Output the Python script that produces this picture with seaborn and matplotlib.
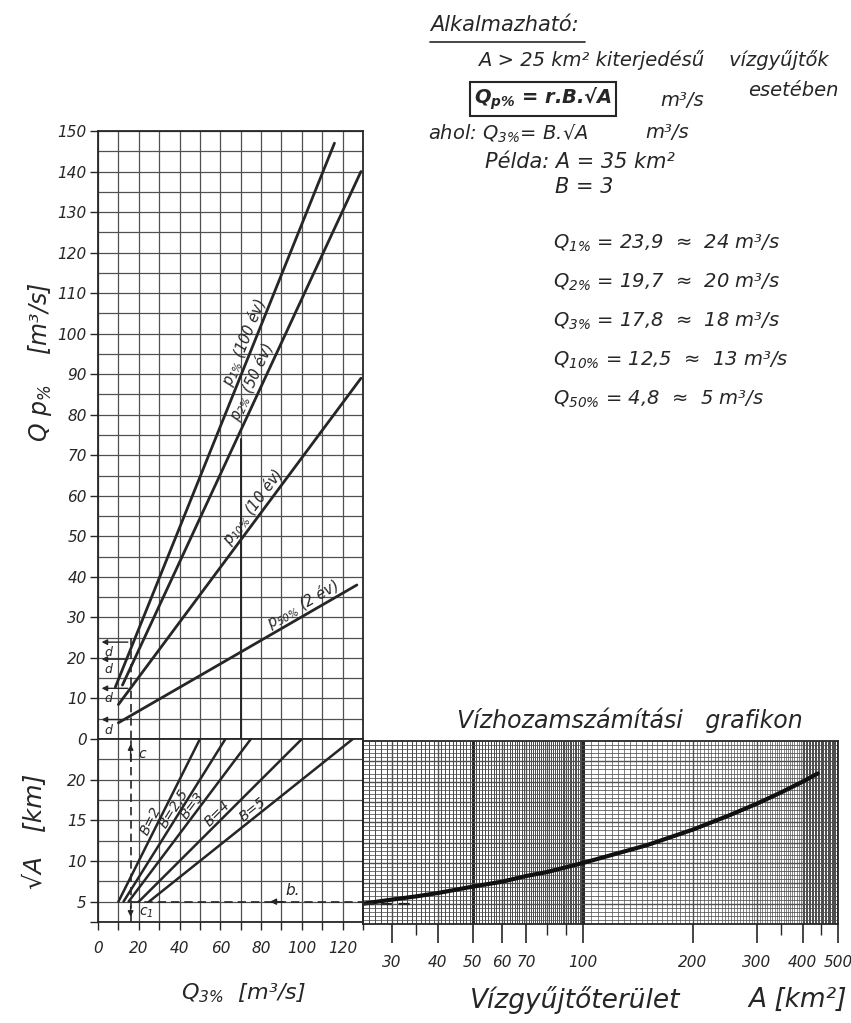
import numpy as np
import seaborn as sns
import matplotlib.pyplot as plt
from matplotlib.lines import Line2D
from matplotlib import font_manager
from matplotlib.ticker import NullLocator

# upper nomogram: Q p% against Q 3%  (end points)
p_names = [r"$p_{1\%}$ (100 év)", r"$p_{2\%}$ (50 év)", r"$p_{10\%}$ (10 év)", r"$p_{50\%}$ (2 év)"]
p_q3 = [[8.5, 116], [12, 129], [10, 129], [10, 127]]
p_q = [[12.8, 147], [13.3, 140], [8.5, 89], [4.0, 38]]
p_label_q3 = [76, 80, 80, 103]

# lower nomogram: sqrt(A) against Q 3%, one line per B
b_values = [2, 2.5, 3, 4, 5]
b_names = ["B=2", "B=2,5", "B=3", "B=4", "B=5"]
b_sqrt_a = [5, 25]
b_label_q3 = [29, 40, 49, 61, 78]

# right panel: sqrt(A) against catchment area A (log axis)
curve_area = [25, 30, 35, 40, 50, 60, 70, 80, 100, 150, 200, 250, 300, 350, 400, 440]
curve_sqrt_a = [5.0, 5.5, 5.9, 6.3, 7.1, 7.7, 8.4, 8.9, 10.0, 12.2, 14.1, 15.8, 17.3, 18.7, 20.0, 21.0]

# worked example (A = 35 km2, B = 3)
example_q3 = 16
example_sqrt_a = 5
example_area = 35
d_levels = [23.9, 19.7, 12.5, 4.8]
res_p = ["1", "2", "3", "10", "50"]
res_exact = ["23,9", "19,7", "17,8", "12,5", "4,8"]
res_round = ["24", "20", "18", "13", "5"]
mark_q3, mark_top = 70, 74

# tick labels
q_ticks = list(range(0, 151, 10))
sqrt_ticks = [2.5, 5, 10, 15, 20]
sqrt_tick_labels = ["", "5", "10", "15", "20"]
q3_ticks = [0, 20, 40, 60, 80, 100, 120]
area_ticks = [30, 40, 50, 60, 70, 100, 200, 300, 400, 500]
area_minor_ticks = [35, 80, 90, 350, 450]

sns.set_theme(style="white")
installed = {f.name for f in font_manager.fontManager.ttflist}
fam = [f for f in ["Liberation Sans Narrow", "DejaVu Sans"] if f in installed]
plt.rcParams["font.family"] = fam
plt.rcParams["font.style"] = "italic"
plt.rcParams["mathtext.fontset"] = "custom"
plt.rcParams["mathtext.rm"] = fam[0] + ":italic"
plt.rcParams["mathtext.it"] = fam[0] + ":italic"
plt.rcParams["mathtext.bf"] = fam[0] + ":italic:bold"

ink = "#262626"
grid = "#505050"
W, H = 851, 1023
fig = plt.figure(figsize=(W / 100, H / 100), dpi=100)


def px_box(x0, y0, x1, y1):
    return [x0 / W, 1 - y1 / H, (x1 - x0) / W, (y1 - y0) / H]


def px_text(x, y, s, **kw):
    kw.setdefault("va", "center")
    return fig.text(x / W, 1 - y / H, s, color=ink, **kw)


ax_up = fig.add_axes(px_box(98, 131, 363, 739))
ax_low = fig.add_axes(px_box(98, 739, 363, 922))
ax_log = fig.add_axes(px_box(363, 741, 838, 924))

for ax in (ax_up, ax_low, ax_log):
    for s in ax.spines.values():
        s.set_color(ink)
        s.set_linewidth(1.3)
    ax.set_axisbelow(True)

# ---- upper panel
ax_up.set_xlim(0, 130)
ax_up.set_ylim(0, 150)
ax_up.set_xticks(np.arange(0, 131, 10))
ax_up.set_xticklabels([])
ax_up.set_yticks(q_ticks)
ax_up.set_yticklabels([str(t) for t in q_ticks])
ax_up.set_yticks(np.arange(5, 150, 10), minor=True)
ax_up.grid(which="both", color=grid, lw=0.9)
ax_up.tick_params(axis="x", length=0)
ax_up.tick_params(axis="y", which="major", left=True, direction="out", length=6,
                  width=1, color=ink, labelsize=11, labelcolor=ink, pad=2)
ax_up.tick_params(axis="y", which="minor", length=0)

for name, xs, ys, lx in zip(p_names, p_q3, p_q, p_label_q3):
    sns.lineplot(x=xs, y=ys, ax=ax_up, color=ink, lw=2.0, legend=False)
    slope = (ys[1] - ys[0]) / (xs[1] - xs[0])
    ly = ys[0] + slope * (lx - xs[0])
    ax_up.text(lx, ly, name, rotation=np.degrees(np.arctan(slope)), rotation_mode="anchor",
               transform_rotates_text=True, ha="center", va="bottom", fontsize=10.5, color=ink)

ax_up.plot([mark_q3, mark_q3], [0, mark_top], color=ink, lw=1.4)
ax_up.plot([example_q3, example_q3], [0, 25], color=ink, lw=1.2, ls=(0, (5, 3)))
for lvl in d_levels:
    ax_up.annotate("", xy=(0.4, lvl), xytext=(example_q3, lvl),
                   arrowprops=dict(arrowstyle="-|>", color=ink, lw=1.0, mutation_scale=8))
    ax_up.text(5, lvl - 1.0, "d", fontsize=9, va="top", ha="center", color=ink)

# ---- lower panel
ax_low.set_xlim(0, 130)
ax_low.set_ylim(2.5, 25)
ax_low.set_xticks(q3_ticks)
ax_low.set_xticklabels([str(t) for t in q3_ticks])
ax_low.set_xticks(np.arange(10, 131, 20), minor=True)
ax_low.set_yticks(sqrt_ticks)
ax_low.set_yticklabels(sqrt_tick_labels)
ax_low.set_yticks(np.arange(7.5, 25, 5), minor=True)
ax_low.grid(which="both", color=grid, lw=0.9)
ax_low.tick_params(axis="both", which="major", left=True, bottom=True, direction="out",
                   length=6, width=1, color=ink, labelsize=11, labelcolor=ink, pad=2)
ax_low.tick_params(axis="x", which="minor", bottom=True, direction="out", length=6, width=1, color=ink)
ax_low.tick_params(axis="y", which="minor", length=0)
ax_low.tick_params(axis="x", which="major", pad=8)

for b, name, lx in zip(b_values, b_names, b_label_q3):
    xs = [b * v for v in b_sqrt_a]
    sns.lineplot(x=xs, y=b_sqrt_a, ax=ax_low, color=ink, lw=1.8, legend=False)
    ly = lx / b
    ax_low.text(lx, ly, name, rotation=np.degrees(np.arctan(1 / b)), rotation_mode="anchor",
                transform_rotates_text=True, ha="center", va="bottom", fontsize=10, color=ink)

ax_low.plot([example_q3, example_q3], [2.5, 25], color=ink, lw=1.2, ls=(0, (5, 3)))
ax_low.plot([example_q3, 130], [example_sqrt_a, example_sqrt_a], color=ink, lw=1.2, ls=(0, (5, 3)))
ax_low.annotate("", xy=(example_q3, 24.7), xytext=(example_q3, 22.0),
                arrowprops=dict(arrowstyle="-|>", color=ink, lw=1.0, mutation_scale=8))
ax_low.text(20, 23.2, "c", fontsize=10, color=ink, va="center")
ax_low.annotate("", xy=(example_q3, 2.8), xytext=(example_q3, 4.8),
                arrowprops=dict(arrowstyle="-|>", color=ink, lw=1.0, mutation_scale=8))
ax_low.text(20, 3.6, r"$c_1$", fontsize=10, color=ink, va="center")
ax_low.annotate("", xy=(83, example_sqrt_a), xytext=(92, example_sqrt_a),
                arrowprops=dict(arrowstyle="-|>", color=ink, lw=1.0, mutation_scale=9))
ax_low.text(92, example_sqrt_a + 0.4, "b.", fontsize=11, color=ink, va="bottom")

# ---- log panel (dense millimetre-type grid)
ax_log.set_xscale("log")
ax_log.set_xlim(25, 500)
ax_log.set_ylim(2.5, 25)
ax_log.vlines(np.arange(25, 100, 1), 2.5, 25, color="#3c3c3c", lw=0.65)
ax_log.vlines(np.arange(100, 400, 5), 2.5, 25, color=grid, lw=0.5)
ax_log.vlines(np.arange(400, 501, 4), 2.5, 25, color="#3c3c3c", lw=0.65)
ax_log.vlines([30, 40, 60, 70, 80, 90, 200, 300, 400], 2.5, 25, color=grid, lw=1.0)
ax_log.vlines([50, 100], 2.5, 25, color=ink, lw=2.2)
ax_log.hlines(np.arange(2.5, 25, 0.5), 25, 500, color=grid, lw=0.55)
ax_log.hlines(np.arange(5, 25, 2.5), 25, 500, color=grid, lw=1.0)
sns.lineplot(x=curve_area, y=curve_sqrt_a, ax=ax_log, color="#111111", lw=3.0, legend=False)
ax_log.plot([25, example_area], [example_sqrt_a, example_sqrt_a], color=ink, lw=1.6, ls=(0, (5, 3)))
ax_log.set_xticks(area_ticks)
ax_log.set_xticklabels([str(t) for t in area_ticks])
ax_log.set_xticks(area_minor_ticks, minor=True)
ax_log.set_xticklabels([], minor=True)
ax_log.yaxis.set_major_locator(NullLocator())
ax_log.yaxis.set_minor_locator(NullLocator())
ax_log.tick_params(axis="x", which="major", bottom=True, direction="out", length=14, width=1.2,
                   color=ink, labelsize=11, labelcolor=ink, pad=8)
ax_log.tick_params(axis="x", which="minor", bottom=True, direction="out", length=8, width=1.0, color=ink)

# ---- axis titles
px_text(40, 362, r"Q $p_{\%}$    [m³/s]", rotation=90, ha="center", fontsize=17)
px_text(35, 831, "√A   [km]", rotation=90, ha="center", fontsize=18)
px_text(243, 993, r"$Q_{3\%}$  [m³/s]", ha="center", fontsize=16)
px_text(630, 720, "Vízhozamszámítási   grafikon", ha="center", fontsize=17)
px_text(575, 1000, "Vízgyűjtőterület", ha="center", fontsize=19)
px_text(798, 1000, "A [km²]", ha="center", fontsize=19)

# ---- notes, top right
px_text(430, 25, "Alkalmazható:", fontsize=15)
fig.add_artist(Line2D([430 / W, 585 / W], [1 - 42 / H] * 2, color=ink, lw=1.2))
px_text(478, 60, "A > 25 km² kiterjedésű    vízgyűjtők", fontsize=14)
px_text(748, 90, "esetében", fontsize=14)
px_text(474, 99, r"$\mathbf{Q_{p\%}}$ = r.B.√A", fontsize=14, fontweight="bold",
        bbox=dict(boxstyle="square,pad=0.2", fc="none", ec=ink, lw=1.5))
px_text(660, 101, "m³/s", fontsize=14)
px_text(428, 134, r"ahol: $Q_{3\%}$= B.√A", fontsize=14)
px_text(645, 133, "m³/s", fontsize=14)
px_text(485, 162, "Példa: A = 35 km²", fontsize=15)
px_text(555, 187, "B = 3", fontsize=15)
for i, (p, ex, rn) in enumerate(zip(res_p, res_exact, res_round)):
    px_text(553, 243 + i * 39, rf"$Q_{{{p}\%}}$ = {ex}  ≈  {rn} m³/s", fontsize=14)

fig.savefig("out.png", dpi=100, facecolor="white")
